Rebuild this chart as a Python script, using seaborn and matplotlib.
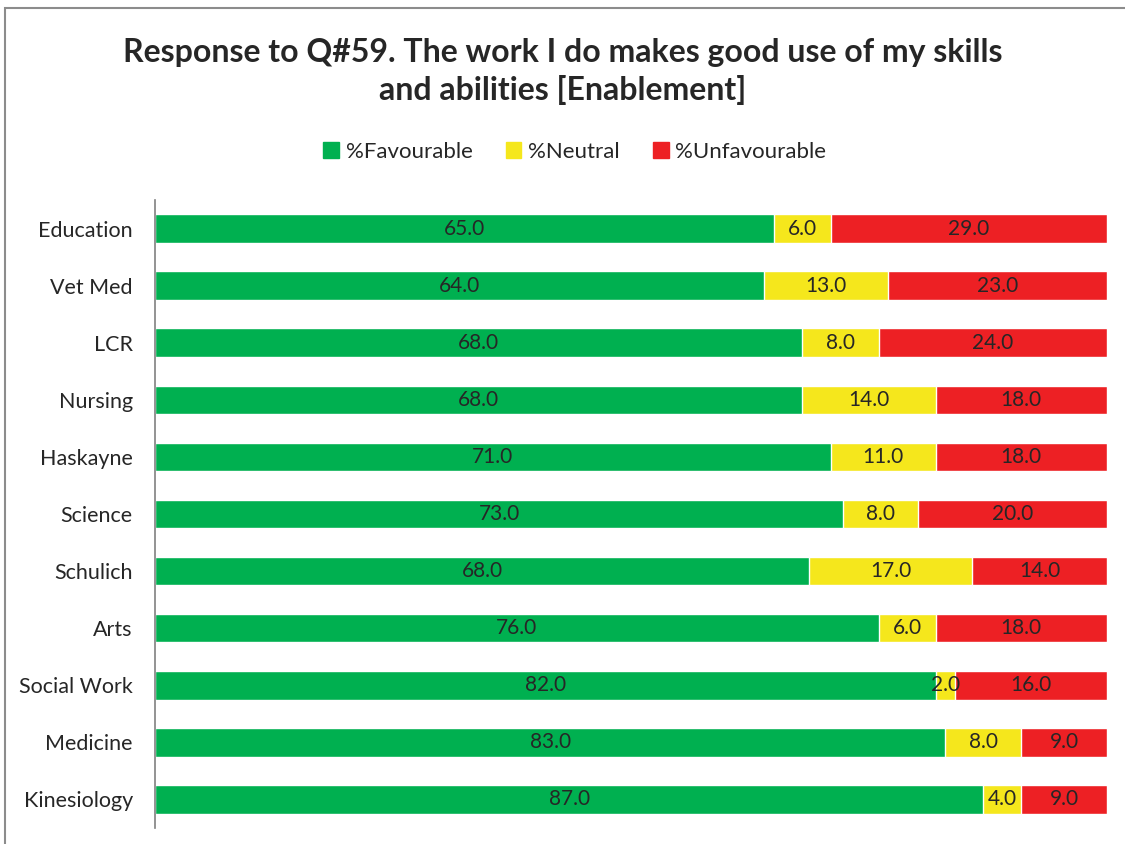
import numpy as np
import pandas as pd
import seaborn as sns
import matplotlib.pyplot as plt
from matplotlib.patches import Rectangle, Patch

# Chart values
faculties = ["Education", "Vet Med", "LCR", "Nursing", "Haskayne", "Science",
             "Schulich", "Arts", "Social Work", "Medicine", "Kinesiology"]
favourable = [65.0, 64.0, 68.0, 68.0, 71.0, 73.0, 68.0, 76.0, 82.0, 83.0, 87.0]
neutral = [6.0, 13.0, 8.0, 14.0, 11.0, 8.0, 17.0, 6.0, 2.0, 8.0, 4.0]
unfavourable = [29.0, 23.0, 24.0, 18.0, 18.0, 20.0, 14.0, 18.0, 16.0, 9.0, 9.0]

series_names = ["%Favourable", "%Neutral", "%Unfavourable"]
colors = {"%Favourable": "#00b050", "%Neutral": "#f5e71c", "%Unfavourable": "#ed2024"}

# 100% stacked: scale each row to its total
df = pd.DataFrame({"Faculty": faculties, "fav": favourable,
                   "neu": neutral, "unf": unfavourable})
total = df[["fav", "neu", "unf"]].sum(axis=1)
df["p_fav"] = df["fav"] / total * 100
df["p_neu"] = df["neu"] / total * 100
df["p_unf"] = df["unf"] / total * 100
df["cum_fav"] = df["p_fav"]
df["cum_neu"] = df["p_fav"] + df["p_neu"]
df["cum_unf"] = df["cum_neu"] + df["p_unf"]

sns.set_theme(style="white")
plt.rcParams["font.family"] = ["Lato", "DejaVu Sans"]
text_color = "#262626"

fig = plt.figure(figsize=(11.25, 8.44), dpi=100)
ax = fig.add_axes([0.1378, 0.019, 0.9840 - 0.1378, 0.744])

# draw cumulative totals back to front
sns.barplot(data=df, y="Faculty", x="cum_unf", color=colors["%Unfavourable"],
            orient="h", width=0.5, saturation=1, ax=ax)
sns.barplot(data=df, y="Faculty", x="cum_neu", color=colors["%Neutral"],
            orient="h", width=0.5, saturation=1, ax=ax)
sns.barplot(data=df, y="Faculty", x="cum_fav", color=colors["%Favourable"],
            orient="h", width=0.5, saturation=1, ax=ax)

# data labels in the middle of each segment
lab_size = 15
for i, row in df.iterrows():
    ax.text(row["p_fav"] / 2, i, f"{row['fav']:.1f}", ha="center", va="center",
            fontsize=lab_size, color=text_color)
    ax.text(row["p_fav"] + row["p_neu"] / 2, i, f"{row['neu']:.1f}", ha="center",
            va="center", fontsize=lab_size, color=text_color)
    ax.text(row["cum_neu"] + row["p_unf"] / 2, i, f"{row['unf']:.1f}", ha="center",
            va="center", fontsize=lab_size, color=text_color)

ax.set_xlim(0, 100)
ax.set_ylim(len(faculties) - 0.5, -0.5)
ax.set_xlabel("")
ax.set_ylabel("")
ax.set_xticks([])
ax.tick_params(axis="y", length=0, pad=16, labelsize=15.5, labelcolor=text_color)
for side in ["top", "right", "bottom"]:
    ax.spines[side].set_visible(False)
ax.spines["left"].set_color("#808080")
ax.spines["left"].set_linewidth(1.2)

fig.text(0.5, 0.915, "Response to Q#59. The work I do makes good use of my skills\nand abilities [Enablement]",
         ha="center", va="center", fontsize=23, fontweight="bold", color=text_color,
         linespacing=1.3)

handles = [Patch(color=colors[n]) for n in series_names]
fig.legend(handles, series_names, loc="center", bbox_to_anchor=(0.511, 0.82), ncol=3,
           frameon=False, fontsize=16, handlelength=0.7, handleheight=0.7,
           handletextpad=0.3, columnspacing=1.5, labelcolor=text_color)

# outer chart border (top and left visible in the reference)
fig.patches.append(Rectangle((5 / 1125, -0.05), 1.2, 1 - 8 / 844 + 0.05,
                             transform=fig.transFigure, fill=False,
                             edgecolor="#8c8c8c", linewidth=1.5))

fig.savefig("out.png", dpi=100)
